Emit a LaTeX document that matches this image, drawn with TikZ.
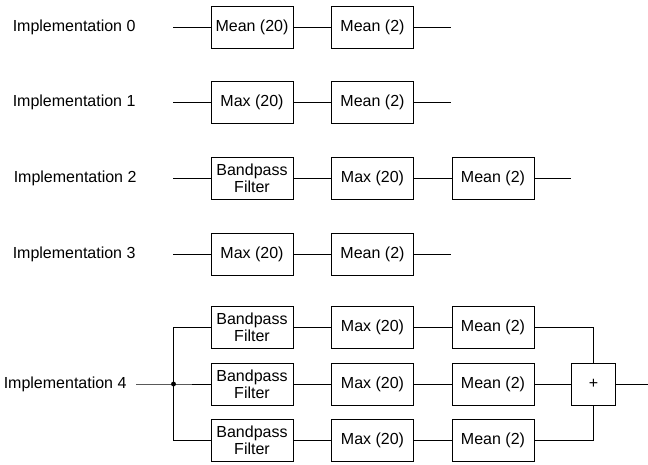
\documentclass[tikz,border=0pt]{standalone}
\usepackage{fontspec}
\setmainfont{Liberation Sans}
\usetikzlibrary{positioning}

\begin{document}
\begin{tikzpicture}[x=0.75pt, y=-0.75pt, line width=0.75pt,
  blk/.style={draw, rectangle, minimum width=61.5pt, minimum height=31.5pt, inner sep=0pt, align=center, font=\fontsize{12}{13}\selectfont},
  sum/.style={draw, rectangle, minimum width=33pt, minimum height=31.5pt, inner sep=0pt, font=\fontsize{12}{13}\selectfont},
  lbl/.style={anchor=east, inner sep=0pt, font=\fontsize{12}{13}\selectfont},
  dot/.style={fill=black, circle, inner sep=1.3pt}]
  \useasboundingbox (0,0) rectangle (648,464);

  % implementation 0
  \node[lbl] (l0) at (136,27) {Implementation 0};
  \coordinate (in0) at (173,27);
  \node[blk] (r0a) at (252,27) {Mean (20)};
  \node[blk] (r0b) at (372.5,27) {Mean (2)};
  \coordinate (out0) at (451,27);
  \draw (in0) -- (r0a) -- (r0b) -- (out0);

  % implementation 1
  \node[lbl] (l1) at (136,102.5) {Implementation 1};
  \coordinate (in1) at (173,102.5);
  \node[blk] (r1a) at (252,102.5) {Max (20)};
  \node[blk] (r1b) at (372.5,102.5) {Mean (2)};
  \coordinate (out1) at (451,102.5);
  \draw (in1) -- (r1a) -- (r1b) -- (out1);

  % implementation 2
  \node[lbl] (l2) at (137,178) {Implementation 2};
  \coordinate (in2) at (173,178);
  \node[blk] (r2a) at (252,178) {Bandpass\\Filter};
  \node[blk] (r2b) at (372.5,178) {Max (20)};
  \node[blk] (r2c) at (493,178) {Mean (2)};
  \coordinate (out2) at (571,178);
  \draw (in2) -- (r2a) -- (r2b) -- (r2c) -- (out2);

  % implementation 3
  \node[lbl] (l3) at (136,254) {Implementation 3};
  \coordinate (in3) at (173,254);
  \node[blk] (r3a) at (252,254) {Max (20)};
  \node[blk] (r3b) at (372.5,254) {Mean (2)};
  \coordinate (out3) at (451,254);
  \draw (in3) -- (r3a) -- (r3b) -- (out3);

  % implementation 4
  \node[lbl] (l4) at (127,384) {Implementation 4};
  \coordinate (in4) at (136,384);
  \node[dot] (j4) at (173.5,384) {};
  \node[blk] (f1) at (252,327) {Bandpass\\Filter};
  \node[blk] (f2) at (252,384) {Bandpass\\Filter};
  \node[blk] (f3) at (252,440.5) {Bandpass\\Filter};
  \node[blk] (x1) at (372.5,327) {Max (20)};
  \node[blk] (x2) at (372.5,384) {Max (20)};
  \node[blk] (x3) at (372.5,440.5) {Max (20)};
  \node[blk] (m1) at (493,327) {Mean (2)};
  \node[blk] (m2) at (493,384) {Mean (2)};
  \node[blk] (m3) at (493,440.5) {Mean (2)};
  \node[sum] (s4) at (593.5,384) {+};
  \coordinate (out4) at (648,384);
  \draw (in4) -- (j4.center) -- (f2) -- (x2) -- (m2) -- (s4) -- (out4);
  \draw (j4.center) |- (f1);
  \draw (j4.center) |- (f3);
  \draw (f1) -- (x1) -- (m1) -| (s4);
  \draw (f3) -- (x3) -- (m3) -| (s4);
\end{tikzpicture}
\end{document}
